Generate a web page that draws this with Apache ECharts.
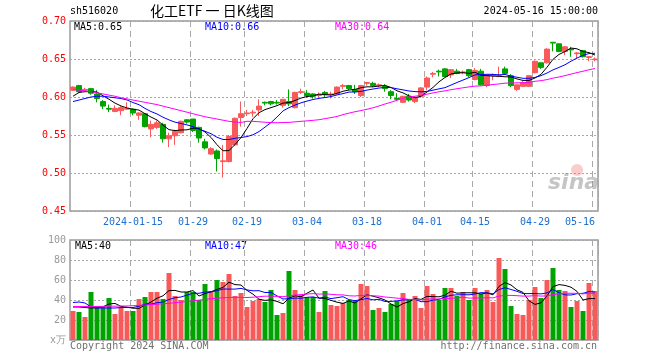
<!DOCTYPE html>
<html>
<head>
<meta charset="utf-8">
<script src="https://cdn.jsdelivr.net/npm/echarts@6/dist/echarts.min.js"></script>
<style>
html,body{margin:0;padding:0;background:#fff;}
#chart{width:660px;height:360px;}
</style>
</head>
<body>
<div id="chart"></div>
<script>
// ---------------- data ----------------
const dates = ['2023-12-29','2024-01-02','2024-01-03','2024-01-04','2024-01-05','2024-01-08','2024-01-09','2024-01-10','2024-01-11','2024-01-12','2024-01-15','2024-01-16','2024-01-17','2024-01-18','2024-01-19','2024-01-22','2024-01-23','2024-01-24','2024-01-25','2024-01-26','2024-01-29','2024-01-30','2024-01-31','2024-02-01','2024-02-02','2024-02-05','2024-02-06','2024-02-07','2024-02-08','2024-02-19','2024-02-20','2024-02-21','2024-02-22','2024-02-23','2024-02-26','2024-02-27','2024-02-28','2024-02-29','2024-03-01','2024-03-04','2024-03-05','2024-03-06','2024-03-07','2024-03-08','2024-03-11','2024-03-12','2024-03-13','2024-03-14','2024-03-15','2024-03-18','2024-03-19','2024-03-20','2024-03-21','2024-03-22','2024-03-25','2024-03-26','2024-03-27','2024-03-28','2024-03-29','2024-04-01','2024-04-02','2024-04-03','2024-04-08','2024-04-09','2024-04-10','2024-04-11','2024-04-12','2024-04-15','2024-04-16','2024-04-17','2024-04-18','2024-04-19','2024-04-22','2024-04-23','2024-04-24','2024-04-25','2024-04-26','2024-04-29','2024-04-30','2024-05-06','2024-05-07','2024-05-08','2024-05-09','2024-05-10','2024-05-13','2024-05-14','2024-05-15','2024-05-16'];

const opens = [0.609,0.615,0.609,0.611,0.604,0.594,0.585,0.581,0.582,0.584,
0.584,0.576,0.578,0.558,0.560,0.564,0.545,0.549,0.553,0.570,
0.571,0.560,0.541,0.525,0.529,0.515,0.515,0.537,0.573,0.578,
0.579,0.583,0.593,0.594,0.593,0.589,0.594,0.586,0.606,0.605,
0.604,0.602,0.606,0.603,0.604,0.614,0.615,0.610,0.602,0.618,
0.618,0.615,0.614,0.607,0.598,0.593,0.601,0.594,0.601,0.613,
0.630,0.634,0.637,0.629,0.634,0.632,0.636,0.623,0.634,0.615,
0.628,0.627,0.637,0.628,0.610,0.614,0.614,0.632,0.645,0.645,
0.672,0.670,0.660,0.663,0.657,0.661,0.652,0.649];

const closes = [0.613,0.607,0.610,0.605,0.598,0.588,0.584,0.585,0.586,0.585,
0.579,0.579,0.561,0.564,0.566,0.545,0.549,0.555,0.568,0.567,
0.556,0.546,0.533,0.532,0.519,0.516,0.548,0.572,0.578,0.579,
0.580,0.588,0.592,0.591,0.592,0.597,0.591,0.606,0.607,0.602,
0.601,0.603,0.603,0.604,0.613,0.615,0.611,0.607,0.615,0.619,
0.615,0.616,0.611,0.602,0.597,0.601,0.596,0.599,0.612,0.625,
0.631,0.633,0.627,0.636,0.631,0.633,0.628,0.635,0.616,0.629,
0.629,0.628,0.631,0.615,0.616,0.619,0.628,0.647,0.639,0.663,
0.671,0.660,0.666,0.662,0.658,0.653,0.653,0.650];

const lows = [0.608,0.606,0.607,0.603,0.593,0.584,0.580,0.580,0.576,0.583,
0.576,0.570,0.560,0.547,0.558,0.540,0.534,0.537,0.552,0.565,
0.554,0.540,0.531,0.524,0.502,0.494,0.514,0.536,0.561,0.575,
0.574,0.575,0.589,0.589,0.590,0.586,0.588,0.585,0.604,0.599,
0.598,0.599,0.600,0.598,0.603,0.610,0.609,0.604,0.600,0.615,
0.613,0.613,0.607,0.597,0.595,0.592,0.594,0.592,0.599,0.609,
0.626,0.627,0.626,0.625,0.630,0.630,0.626,0.622,0.615,0.613,
0.622,0.626,0.630,0.613,0.608,0.613,0.613,0.631,0.637,0.644,
0.660,0.659,0.655,0.653,0.650,0.652,0.647,0.647];

const highs = [0.614,0.616,0.612,0.612,0.609,0.596,0.590,0.589,0.588,0.593,
0.585,0.580,0.579,0.569,0.569,0.566,0.553,0.557,0.569,0.571,
0.571,0.561,0.545,0.534,0.531,0.537,0.550,0.573,0.594,0.583,
0.583,0.597,0.594,0.595,0.596,0.597,0.610,0.607,0.611,0.609,
0.605,0.606,0.608,0.607,0.614,0.617,0.616,0.616,0.616,0.620,
0.620,0.618,0.617,0.609,0.605,0.601,0.604,0.601,0.613,0.627,
0.633,0.636,0.638,0.636,0.637,0.635,0.637,0.638,0.637,0.629,
0.631,0.640,0.640,0.630,0.616,0.621,0.629,0.648,0.645,0.664,
0.672,0.670,0.667,0.666,0.659,0.662,0.654,0.652];

const ma5 = [0.601,0.606,0.607,0.607,0.6066,0.6016,0.597,0.592,0.5882,0.5856,
0.5838,0.5828,0.578,0.5736,0.5698,0.563,0.557,0.5558,0.5566,0.5568,
0.559,0.5584,0.554,0.5468,0.5372,0.5292,0.5296,0.5374,0.5466,0.5586,
0.5714,0.5794,0.5834,0.586,0.5886,0.592,0.5926,0.5954,0.5986,0.6006,
0.6014,0.6038,0.6032,0.6026,0.6048,0.6076,0.6092,0.61,0.6122,0.6134,
0.6134,0.6144,0.6152,0.6126,0.6082,0.6054,0.6014,0.599,0.601,0.6066,
0.6126,0.62,0.6256,0.6304,0.6316,0.632,0.631,0.6326,0.6286,0.6282,
0.6274,0.6274,0.6266,0.6264,0.6238,0.6218,0.6218,0.625,0.6298,0.6392,
0.6496,0.656,0.6598,0.6644,0.6634,0.6598,0.6584,0.6552];

const ma10 = [0.594,0.596,0.598,0.600,0.601,0.601,0.600,0.599,0.598,0.5961,
0.5927,0.5899,0.585,0.5809,0.5777,0.5734,0.5699,0.5669,0.5651,0.5633,
0.561,0.5577,0.5549,0.5517,0.547,0.5441,0.544,0.5457,0.5467,0.5479,
0.5503,0.5545,0.5604,0.5663,0.5736,0.5817,0.586,0.5894,0.5923,0.5946,
0.5967,0.5982,0.5993,0.6006,0.6027,0.6045,0.6065,0.6066,0.6074,0.6091,
0.6105,0.6118,0.6126,0.6124,0.6108,0.6094,0.6079,0.6071,0.6068,0.6074,
0.609,0.6107,0.6123,0.6157,0.6191,0.6223,0.6255,0.6291,0.6295,0.6299,
0.6297,0.6292,0.6296,0.6275,0.626,0.6246,0.6246,0.6258,0.6281,0.6315,
0.6357,0.6389,0.6424,0.6471,0.6513,0.6547,0.6572,0.6575];

const ma30 = [0.610,0.609,0.608,0.607,0.6055,0.604,0.6025,0.601,0.599,0.5975,
0.596,0.5945,0.593,0.5915,0.590,0.588,0.586,0.584,0.582,0.580,
0.578,0.576,0.574,0.5725,0.571,0.5695,0.568,0.567,0.5665,0.568,
0.568,0.5674,0.5668,0.5663,0.5661,0.5664,0.5666,0.5673,0.568,0.5686,
0.5693,0.5701,0.5715,0.5729,0.5744,0.5768,0.5788,0.5806,0.5821,0.5839,
0.5858,0.5882,0.5908,0.5931,0.5957,0.5985,0.6001,0.601,0.6022,0.6037,
0.6054,0.6069,0.6081,0.6096,0.6109,0.6121,0.6133,0.6143,0.6146,0.6155,
0.6164,0.6172,0.6182,0.6185,0.6186,0.6188,0.6193,0.6207,0.6215,0.6229,
0.6248,0.6263,0.6281,0.6301,0.6321,0.6339,0.6358,0.6375];

// volume, unit: 10k shares (万)
const volumes = [29,28,23,48,33,34,42,26,33,29,
29,41,43,48,48,41,67,44,40,48,
48,40,56,49,60,58,66,44,47,33,
39,41,38,50,25,27,69,50,45,43,
43,28,49,35,34,37,40,39,56,54,
30,32,28,36,39,47,41,44,32,54,
46,40,52,52,44,48,40,52,46,50,
38,82,71,34,26,25,40,53,42,60,
72,50,49,33,39,29,57,49];

const volMa5 = [33,33,32.5,32,32.2,33.2,36,36.6,33.6,32.8,
31.8,31.6,35,38,41.8,44.2,49.4,49.6,48,48,
49.4,44,46.4,48.2,50.6,52.6,57.8,55.4,55,49.6,
45.8,40.8,39.6,40.2,38.6,36.2,41.8,44.2,43.2,46.8,
50,41.8,41.6,39.6,37.8,36.6,39,37,41.2,45.2,
43.8,42.2,40,36,33,36.4,38.2,41.4,40.6,43.6,
43.4,43.2,44.8,48.8,46.8,47.2,47.2,47.2,46,47.2,
45.2,53.6,57.4,55,50.2,47.6,39.2,35.6,37.2,44,
53.4,55.4,54.6,52.8,48.6,40,41.4,41.4];

const volMa10 = [37.5,38,37,33,32,32,32,32,32.5,32.5,
32.5,33.8,35.8,35.8,37.3,38,40.5,42.3,43,44.9,
46.8,46.7,48,48.1,49.3,51,50.9,50.9,51.6,50.1,
49.2,49.3,47.5,47.6,44.1,41,41.3,41.9,41.7,42.7,
43.1,41.8,42.9,41.4,42.3,43.3,40.4,39.3,40.4,41.5,
40.2,40.6,38.5,38.6,39.1,40.1,40.2,40.7,38.3,38.3,
39.9,40.7,43.1,44.7,45.2,45.3,45.2,46,47.4,47,
46.2,50.4,52.3,50.5,48.7,46.4,46.4,46.5,46.1,47.1,
50.5,47.3,45.1,45,46.3,46.7,48.4,48];

const volMa30 = [33.5,33.5,33.5,33.5,33.5,33.6,33.8,33.8,34,34,
34.3,34.6,35,35.4,35.8,36.2,36.7,37.3,37.9,38.5,
39.2,39.9,40.6,41.3,41.8,42.2,42.5,42.7,42.6,42.5,
42.8,43.3,43.8,43.8,43.6,43.3,44.2,45,45.4,45.9,
46.4,45.9,46.1,45.7,45.2,45.1,44.2,44,44.6,44.8,
44.2,43.9,43,42.5,41.8,41.5,40.6,40.6,40.1,40.8,
41.1,41,41.5,41.6,42.2,42.9,41.9,42,42,42.3,
42.1,43.9,44.6,44.6,44.3,43.9,43.9,44.4,43.9,44.1,
45.5,46.1,46.8,46.7,46.7,46.1,46.7,46.8];

const tickDates = ['2024-01-15','2024-01-29','2024-02-19','2024-03-04','2024-03-18','2024-04-01','2024-04-15','2024-04-29','2024-05-16'];
const tickTexts = ['2024-01-15','01-29','02-19','03-04','03-18','04-01','04-15','04-29','05-16'];
const priceTicks = ['0.45','0.50','0.55','0.60','0.65','0.70'];
const volTicks = ['x万','20','40','60','80','100'];
const maLabels = ['MA5:0.65','MA10:0.66','MA30:0.64'];
const volMaLabels = ['MA5:40','MA10:47','MA30:46'];

// ---------------- styles ----------------
const RED = '#f85a5a', GREEN = '#00a300';
const C_MA5 = '#000000', C_MA10 = '#0000ff', C_MA30 = '#ff00ff';
const MONO = '"DejaVu Sans Mono", "Liberation Mono", monospace';
const GRID_L = 70, GRID_W = 528;

const showTick = (i, v) => tickDates.indexOf(v) >= 0;

function makeX(gi, showLabel) {
  return {
    type: 'category', gridIndex: gi, data: dates, boundaryGap: true,
    axisLine: {show: false}, axisTick: {show: false},
    axisLabel: showLabel ? {
      interval: showTick, formatter: v => tickTexts[tickDates.indexOf(v)],
      color: '#1e6fcf', fontFamily: MONO, fontSize: 10, margin: 6,
      alignMaxLabel: 'right'
    } : {show: false},
    splitLine: {show: true, interval: showTick, lineStyle: {color: '#a8a8a8', width: 1, type: [6, 4]}}
  };
}

const candleData = dates.map((d, i) => [opens[i], closes[i], lows[i], highs[i]]);
const volData = volumes.map((v, i) => ({value: v, itemStyle: {color: closes[i] >= opens[i] ? RED : GREEN}}));

function line(name, data, color, xi, yi) {
  return {name, type: 'line', data, xAxisIndex: xi, yAxisIndex: yi, symbol: 'none',
    lineStyle: {color, width: 1}, itemStyle: {color}, z: 5, silent: true};
}

const chart = echarts.init(document.getElementById('chart'), null, {renderer: 'canvas'});
chart.setOption({
  animation: false,
  backgroundColor: '#fff',
  grid: [
    {left: GRID_L, width: GRID_W, top: 21, height: 190, show: true, borderColor: '#9a9a9a', borderWidth: 1.5, backgroundColor: 'transparent'},
    {left: GRID_L, width: GRID_W, top: 240, height: 100, show: true, borderColor: '#9a9a9a', borderWidth: 1.5, backgroundColor: 'transparent'}
  ],
  xAxis: [makeX(0, true), makeX(1, false)],
  yAxis: [
    {type: 'value', gridIndex: 0, min: 0.45, max: 0.70, interval: 0.05, scale: true,
     axisLine: {show: false}, axisTick: {show: false},
     axisLabel: {color: '#ff0000', fontFamily: MONO, fontSize: 10, margin: 4,
       formatter: v => priceTicks[Math.round((v - 0.45) / 0.05)]},
     splitLine: {show: true, lineStyle: {color: '#a8a8a8', width: 1, type: [2, 2]}}},
    {type: 'value', gridIndex: 1, min: 0, max: 100, interval: 20,
     axisLine: {show: false}, axisTick: {show: false},
     axisLabel: {color: '#999999', fontFamily: MONO, fontSize: 10, margin: 4,
       formatter: v => volTicks[Math.round(v / 20)]},
     splitLine: {show: true, lineStyle: {color: '#a8a8a8', width: 1, type: [2, 2]}}}
  ],
  series: [
    {type: 'candlestick', xAxisIndex: 0, yAxisIndex: 0, data: candleData, barWidth: 5,
     itemStyle: {color: RED, color0: GREEN, borderColor: RED, borderColor0: GREEN, borderWidth: 1}, z: 3, silent: true},
    line('MA5', ma5, C_MA5, 0, 0),
    line('MA10', ma10, C_MA10, 0, 0),
    line('MA30', ma30, C_MA30, 0, 0),
    {type: 'bar', xAxisIndex: 1, yAxisIndex: 1, data: volData, barWidth: 5, z: 3, silent: true},
    line('VMA5', volMa5, C_MA5, 1, 1),
    line('VMA10', volMa10, C_MA10, 1, 1),
    line('VMA30', volMa30, C_MA30, 1, 1)
  ],
  graphic: [
    {type: 'text', left: 70, top: 6, style: {text: 'sh516020', font: '10px ' + MONO, fill: '#000'}},
    {type: 'text', left: 150, top: 4, style: {text: '化工ETF 一 日K线图', font: '14px "Noto Sans CJK SC"', fill: '#000'}},
    {type: 'text', right: 62, top: 6, style: {text: '2024-05-16 15:00:00', font: '10px ' + MONO, fill: '#000'}},
    {type: 'text', left: 74, top: 22, style: {text: maLabels[0], font: '10px ' + MONO, fill: C_MA5}},
    {type: 'text', left: 205, top: 22, style: {text: maLabels[1], font: '10px ' + MONO, fill: C_MA10}},
    {type: 'text', left: 335, top: 22, style: {text: maLabels[2], font: '10px ' + MONO, fill: C_MA30}},
    {type: 'text', left: 75, top: 241, style: {text: volMaLabels[0], font: '10px ' + MONO, fill: C_MA5}},
    {type: 'text', left: 205, top: 241, style: {text: volMaLabels[1], font: '10px ' + MONO, fill: C_MA10}},
    {type: 'text', left: 335, top: 241, style: {text: volMaLabels[2], font: '10px ' + MONO, fill: C_MA30}},
    {type: 'text', left: 70, top: 341, style: {text: 'Copyright 2024 SINA.COM', font: '10px ' + MONO, fill: '#707070'}},
    {type: 'text', right: 63, top: 341, style: {text: 'http://finance.sina.com.cn', font: '10px ' + MONO, fill: '#707070'}},
    {type: 'circle', shape: {cx: 577, cy: 170, r: 6}, style: {fill: 'rgba(240,110,110,0.35)'}, z: 1},
    {type: 'text', left: 548, top: 172, style: {text: 'sina', font: 'italic bold 22px "DejaVu Sans"', fill: 'rgba(150,150,150,0.55)'}, z: 1}
  ]
});
</script>
</body>
</html>
